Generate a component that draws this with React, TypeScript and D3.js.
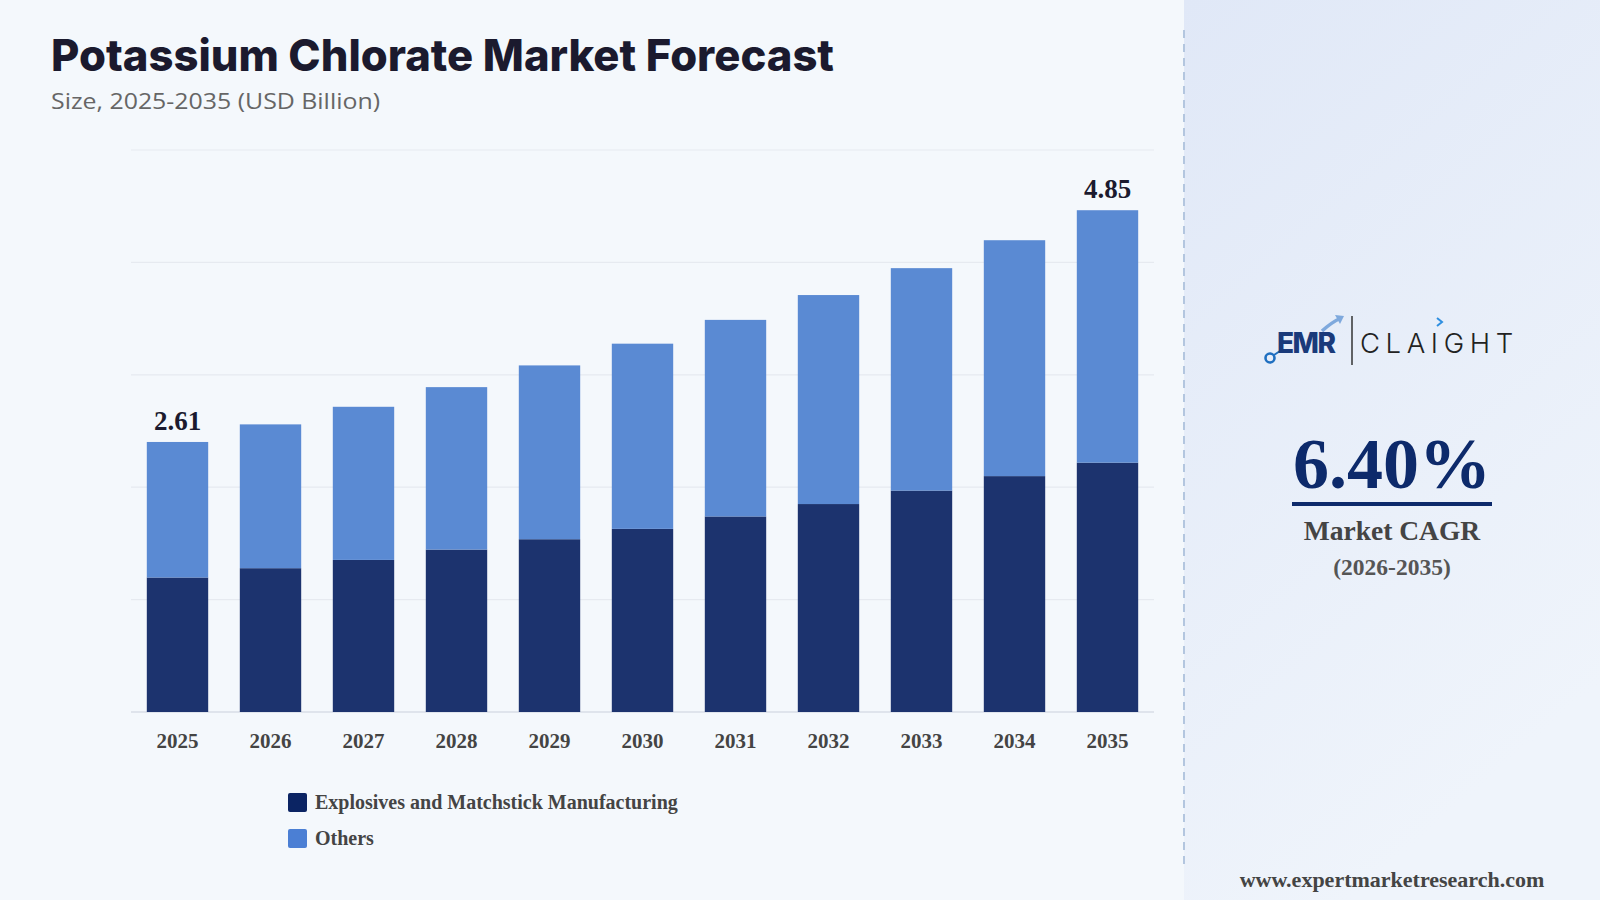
import * as d3 from 'd3'

const W = 1600
const H = 900

// market size by segment, USD billion
const years: string[] = ['2025', '2026', '2027', '2028', '2029', '2030', '2031', '2032', '2033', '2034', '2035']
const explosives: number[] = [1.30, 1.39, 1.47, 1.57, 1.67, 1.77, 1.89, 2.01, 2.14, 2.28, 2.41]
const others: number[] = [1.31, 1.39, 1.48, 1.57, 1.68, 1.79, 1.90, 2.02, 2.15, 2.28, 2.44]
const seriesNames: string[] = ['Explosives and Matchstick Manufacturing', 'Others']
const labelledYears: string[] = ['2025', '2035']
const labelValues: number[] = [2.61, 4.85]
const cagr = '6.40%'
const cagrPeriod = '(2026-2035)'

const DARK = '#1c336e'
const LIGHT = '#5a8ad3'
const serif = '"Liberation Serif", "Times New Roman", serif'

const margin = { top: 150, left: 131, right: 446, bottom: 188 }
const plotW = W - margin.left - margin.right
const plotH = H - margin.top - margin.bottom

export default function App() {
    const rows = years.map((year, i) => ({ year, explosives: explosives[i], others: others[i] }))
    const stacked = d3.stack<any>().keys(['explosives', 'others'])(rows)

    const maxTotal = d3.max(rows, (d: any) => d.explosives + d.others) as number
    const x = d3.scaleBand<string>().domain(years).range([0, plotW]).paddingInner(0.34).paddingOuter(0.17)
    const y = d3.scaleLinear().domain([0, maxTotal * 1.12]).range([plotH, 0])
    const gridTicks = d3.range(0, 6).map((i) => (y.domain()[1] / 5) * i)
    const fills = [DARK, LIGHT]

    return (
        <div style={{ position: 'absolute', left: 0, top: 0 }}>
            <svg width={W} height={H} style={{ display: 'block' }}>
                <defs>
                    <linearGradient id="side" x1="0" y1="0" x2="0.4" y2="1">
                        <stop offset="0%" stopColor="#e0e8f7" />
                        <stop offset="100%" stopColor="#eff4fb" />
                    </linearGradient>
                </defs>
                <rect width={W} height={H} fill="#f4f8fc" />
                <rect x={1184} width={W - 1184} height={H} fill="url(#side)" />
                <line x1={1184} x2={1184} y1={30} y2={866} stroke="#b3c6df" strokeWidth={2} strokeDasharray="8 6" />

                {/* heading */}
                <text x={51} y={71} fontFamily="Inter, sans-serif" fontWeight={800} fontSize={44}
                    fill="#1b1a2e" textLength={783} lengthAdjust="spacingAndGlyphs">Potassium Chlorate Market Forecast</text>
                <text x={51} y={109} fontFamily='"Open Sans", sans-serif' fontSize={22} fill="#666"
                    textLength={329} lengthAdjust="spacingAndGlyphs">Size, 2025-2035 (USD Billion)</text>

                <g transform={`translate(${margin.left},${margin.top})`}>
                    {gridTicks.map((t, i) => (
                        <line key={i} x1={0} x2={plotW} y1={y(t)} y2={y(t)}
                            stroke={i === 0 ? '#dfe4ec' : '#e6eaf0'} strokeWidth={i === 0 ? 2 : 1.2} />
                    ))}
                    {stacked.map((layer, li) => (
                        <g key={layer.key} fill={fills[li]}>
                            {layer.map((d: any, i: number) => (
                                <rect key={years[i]} x={x(years[i])} width={x.bandwidth()}
                                    y={y(d[1])} height={y(d[0]) - y(d[1])} />
                            ))}
                        </g>
                    ))}
                    {labelledYears.map((yr, i) => (
                        <text key={yr} x={(x(yr) as number) + x.bandwidth() / 2} y={y(labelValues[i]) - 12}
                            textAnchor="middle" fontFamily={serif} fontWeight={700} fontSize={27} fill="#1b1a2e">
                            {labelValues[i].toFixed(2)}
                        </text>
                    ))}
                    {years.map((yr) => (
                        <text key={yr} x={(x(yr) as number) + x.bandwidth() / 2} y={plotH + 36}
                            textAnchor="middle" fontFamily={serif} fontWeight={700} fontSize={21} fill="#444">
                            {yr}
                        </text>
                    ))}
                </g>

                {/* legend */}
                {seriesNames.map((name, i) => (
                    <g key={name} transform={`translate(288,${793 + i * 36})`}>
                        <rect width={19} height={19} rx={2} fill={i === 0 ? '#0b2463' : '#4b7fd4'} />
                        <text x={27} y={16} fontFamily={serif} fontWeight={700} fontSize={20} fill="#444">{name}</text>
                    </g>
                ))}

                {/* brand mark */}
                <g>
                    <circle cx={1270} cy={358} r={4.5} fill="none" stroke="#1f6fc0" strokeWidth={2.6} />
                    <line x1={1274} y1={355} x2={1280} y2={351} stroke="#1f6fc0" strokeWidth={2} />
                    <path d="M1322,331 Q1332,322 1341,318" fill="none" stroke="#7fa9dd" strokeWidth={3.5} />
                    <path d="M1335,315 L1344,316 L1340,324 Z" fill="#7fa9dd" />
                    <text x={1277} y={353} fontFamily="Inter, sans-serif" fontWeight={800} fontSize={28}
                        fill="#1a3a7a" letterSpacing={-1.5}>EMR</text>
                    <line x1={1352} x2={1352} y1={316} y2={365} stroke="#333" strokeWidth={1.5} />
                    <text x={1360} y={353} fontFamily="Inter, sans-serif" fontWeight={300} fontSize={27.5}
                        fill="#222" letterSpacing={5.6}>CLAIGHT</text>
                    <path d="M1437,318 L1442,322 L1437,326" fill="none" stroke="#2f8fe0" strokeWidth={2} />
                </g>

                {/* growth rate */}
                <text x={1392} y={488} textAnchor="middle" fontFamily={serif} fontWeight={700} fontSize={72} fill="#0d2a6b">{cagr}</text>
                <line x1={1292} x2={1492} y1={504} y2={504} stroke="#0d2a6b" strokeWidth={4} />
                <text x={1392} y={540} textAnchor="middle" fontFamily={serif} fontWeight={700} fontSize={27.5} fill="#444">Market CAGR</text>
                <text x={1392} y={575} textAnchor="middle" fontFamily={serif} fontWeight={700} fontSize={23.5} fill="#555">{cagrPeriod}</text>

                <text x={1392} y={887} textAnchor="middle" fontFamily={serif} fontWeight={700} fontSize={22} fill="#444">www.expertmarketresearch.com</text>
            </svg>
        </div>
    )
}
